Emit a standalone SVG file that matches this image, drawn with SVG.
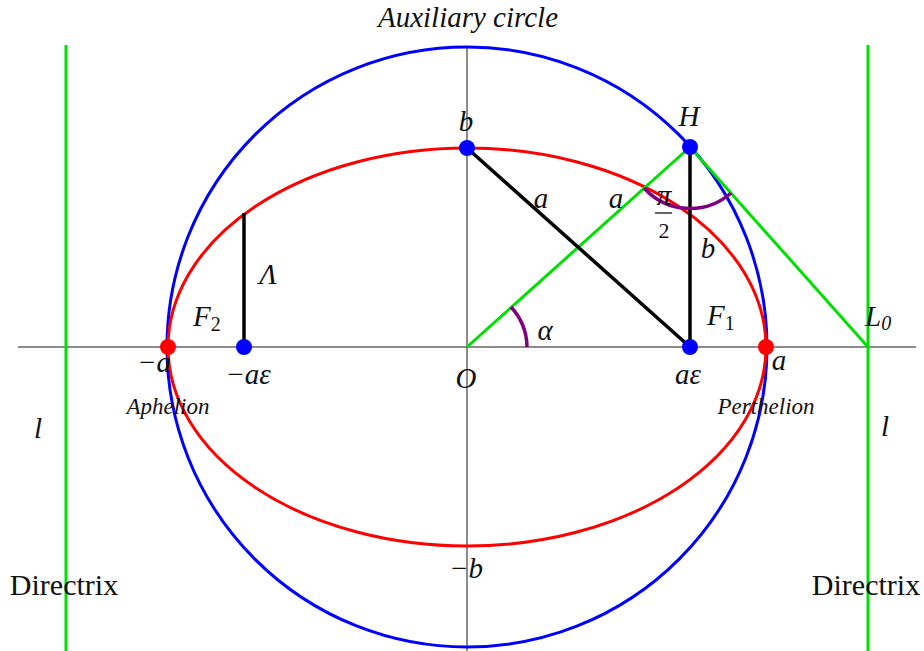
<svg xmlns="http://www.w3.org/2000/svg" width="924" height="651" viewBox="0 0 924 651">
<style>
.ax{stroke:#666;stroke-width:1.5;fill:none}
.gr{stroke:#00e000;stroke-width:3;fill:none}
.bk{stroke:#000;stroke-width:3.5;fill:none}
.pu{stroke:#800080;stroke-width:3.5;fill:none}
text{font-family:"Liberation Serif","Times New Roman",serif;fill:#111}
.it{font-style:italic;font-size:29px}
.sub{font-size:20px;font-style:normal}
.sm{font-style:italic;font-size:23px}
.dx{font-size:30px}
</style>
<rect width="924" height="651" fill="#fff"/>
<g id="axes">
<line class="ax" x1="18" y1="347" x2="916" y2="347"/>
<line class="ax" x1="467" y1="46" x2="467" y2="651"/>
</g>
<g id="circle"><circle cx="467" cy="347" r="300" fill="none" stroke="#0000ff" stroke-width="3"/></g>
<g id="ellipse"><ellipse cx="467" cy="347" rx="299" ry="199" fill="none" stroke="#ff0000" stroke-width="3"/></g>
<g id="connectors">
<line class="gr" x1="66" y1="45" x2="66" y2="651"/>
<line class="gr" x1="868" y1="45" x2="868" y2="651"/>
<line class="gr" x1="467" y1="347" x2="690" y2="147"/>
<line class="gr" x1="690" y1="147" x2="868" y2="347"/>
<line class="bk" x1="467" y1="148" x2="690" y2="347"/>
<line class="bk" x1="690" y1="147" x2="690" y2="347"/>
<line class="bk" x1="244" y1="213" x2="244" y2="347"/>
<path class="pu" d="M644 188 A62 62 0 0 0 731 193"/>
<path class="pu" d="M511 307 A60 60 0 0 1 527 347"/>
</g>
<g id="points">
<circle cx="467" cy="148" r="8" fill="#0000ff"/>
<circle cx="690" cy="147" r="8" fill="#0000ff"/>
<circle cx="690" cy="347" r="8" fill="#0000ff"/>
<circle cx="244" cy="347" r="8" fill="#0000ff"/>
<circle cx="168" cy="347" r="8" fill="#ff0000"/>
<circle cx="766" cy="347" r="8" fill="#ff0000"/>
</g>
<g id="labels">
<text class="it" x="468" y="27" text-anchor="middle" font-size="31">Auxiliary circle</text>
<text class="it" x="689" y="126" text-anchor="middle">H</text>
<text class="it" x="466" y="131" text-anchor="middle">b</text>
<text class="it" x="541" y="208" text-anchor="middle">a</text>
<text class="it" x="616" y="208" text-anchor="middle">a</text>
<text class="it" x="664" y="205" text-anchor="middle" font-size="22">π</text>
<line x1="655" y1="213" x2="672" y2="213" stroke="#111" stroke-width="1.3"/>
<text x="664" y="238" text-anchor="middle" font-size="22">2</text>
<text class="it" x="708" y="258" text-anchor="middle">b</text>
<text class="it" x="545" y="340" text-anchor="middle">α</text>
<text class="it" x="707" y="325">F<tspan class="sub" dy="5">1</tspan></text>
<text class="it" x="865" y="326">L<tspan font-size="20" dy="4">0</tspan></text>
<text class="it" x="193" y="326">F<tspan class="sub" dy="5">2</tspan></text>
<text class="it" x="268" y="284" text-anchor="middle">Λ</text>
<text class="it" x="154" y="372" text-anchor="middle">−a</text>
<text class="it" x="248" y="384" text-anchor="middle">−aε</text>
<text class="it" x="466" y="388" text-anchor="middle">O</text>
<text class="it" x="688" y="384" text-anchor="middle">aε</text>
<text class="it" x="779" y="370" text-anchor="middle">a</text>
<text class="sm" x="168" y="414" text-anchor="middle">Aphelion</text>
<text class="sm" x="766" y="414" text-anchor="middle">Perthelion</text>
<text class="it" x="38" y="438" text-anchor="middle">l</text>
<text class="it" x="885" y="436" text-anchor="middle">l</text>
<text class="it" x="466" y="578" text-anchor="middle">−b</text>
<text class="dx" x="64" y="595" text-anchor="middle">Directrix</text>
<text class="dx" x="866" y="595" text-anchor="middle">Directrix</text>
</g>
</svg>
